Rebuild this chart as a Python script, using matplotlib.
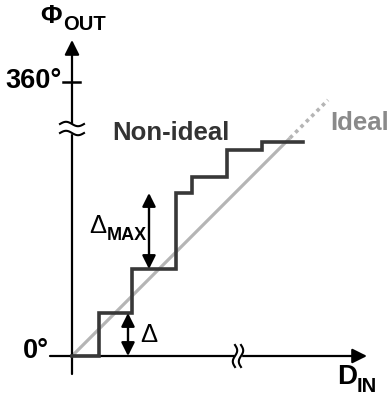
import numpy as np
import matplotlib
matplotlib.use("Agg")
import matplotlib.pyplot as plt

plt.rcParams['font.family'] = ['Liberation Sans', 'DejaVu Sans']
plt.rcParams['font.weight'] = 'bold'

# staircase transfer curve (input code edges, output phase levels)
step_x = [0, 27, 60, 104, 120, 155, 190, 231]
step_y = [0, 43, 87, 163, 179, 206, 214, 214]

# ideal line: solid part, then dotted continuation
ideal_solid = [0, 218]
ideal_dotted = [218, 256]

# annotated errors
delta_level = [0, 43]
delta_max_level = [87, 163]

y_top, y_bottom = 316, -18
x_right, x_left = 295, -22
tick_360 = 274
y_break = [223, 232]
x_break = [163, 169]

dark = '#383838'
light = '#b5b5b5'

fig = plt.figure(figsize=(3.89, 3.98), dpi=100)
ax = fig.add_axes([0, 0, 1, 1])
ax.set_xlim(-72, 317)
ax.set_ylim(-42, 356)
ax.axis('off')

# axes with arrow heads
ax.annotate('', xy=(0, y_top), xytext=(0, y_bottom),
            arrowprops=dict(arrowstyle='-|>', lw=1.6, color='k',
                            mutation_scale=22, shrinkA=0, shrinkB=0))
ax.annotate('', xy=(x_right, 0), xytext=(x_left, 0),
            arrowprops=dict(arrowstyle='-|>', lw=1.6, color='k',
                            mutation_scale=22, shrinkA=0, shrinkB=0))
ax.plot([-9, 8], [tick_360, tick_360], color='k', lw=1.8)

# ideal characteristic
ax.plot(ideal_solid, ideal_solid, color=light, lw=2.3, solid_capstyle='butt')
ax.plot(ideal_dotted, ideal_dotted, color=light, lw=2.6,
        linestyle=(0, (1, 1.1)))

# non-ideal staircase
ax.plot(step_x, step_y, drawstyle='steps-post', color=dark, lw=2.6,
        solid_joinstyle='miter', zorder=3)

# axis breaks
t = np.linspace(0, 1, 60)
wave = 2.2 * np.sin(2 * np.pi * t)
ax.fill_between([-6, 6], y_break[0], y_break[1], color='white', zorder=4)
for yb in y_break:
    ax.plot(-12 + 24 * t, yb + wave, color='k', lw=1.5, zorder=5)
ax.fill_betweenx([-6, 6], x_break[0], x_break[1], color='white', zorder=4)
for xb in x_break:
    ax.plot(xb - wave, -11 + 22 * t, color='k', lw=1.5, zorder=5)

# error arrows
arr = dict(arrowstyle='<|-|>', lw=1.7, color='k', mutation_scale=20,
           shrinkA=0, shrinkB=0)
ax.annotate('', xy=(77, delta_max_level[1]), xytext=(77, delta_max_level[0]),
            arrowprops=arr)
ax.annotate('', xy=(56, delta_level[1]), xytext=(56, delta_level[0]),
            arrowprops=arr)

# labels
ax.text(-21, 340, 'Φ', fontsize=19, ha='center', va='center')
ax.text(-9, 331, 'OUT', fontsize=14.5, ha='left', va='center')
ax.text(-10, 275.5, '360°', fontsize=19.5, ha='right', va='center')
ax.text(-23, 5, '0°', fontsize=19.5, ha='right', va='center')
ax.text(99, 223, 'Non-ideal', fontsize=18.5, ha='center', va='center',
        color='#333333')
ax.text(258, 233.5, 'Ideal', fontsize=18.5, ha='left', va='center',
        color='#8a8a8a')
ax.text(26, 130, 'Δ', fontsize=18.5, ha='center', va='center',
        fontweight='normal')
ax.text(35, 120, 'MAX', fontsize=13, ha='left', va='center')
ax.text(77, 21, 'Δ', fontsize=18.5, ha='center', va='center',
        fontweight='normal')
ax.text(275, -21, 'D', fontsize=20, ha='center', va='center')
ax.text(285, -30, 'IN', fontsize=14.5, ha='left', va='center')

fig.savefig('out.png', dpi=100)
